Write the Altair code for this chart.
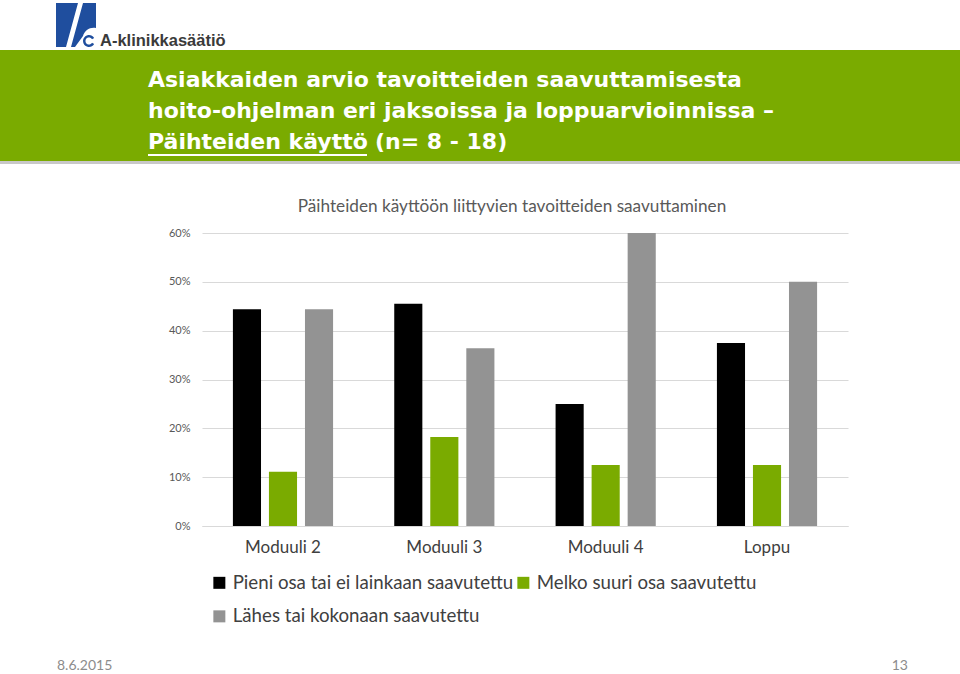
import altair as alt
import pandas as pd

categories = ["Moduuli 2", "Moduuli 3", "Moduuli 4", "Loppu"]
series = [
    "Pieni osa tai ei lainkaan saavutettu",
    "Melko suuri osa saavutettu",
    "Lähes tai kokonaan saavutettu",
]
pieni = [0.444, 0.455, 0.250, 0.375]
melko = [0.111, 0.182, 0.125, 0.125]
lahes = [0.444, 0.364, 0.600, 0.500]
series_colors = {series[0]: "#000000", series[1]: "#7aab00", series[2]: "#939393"}
y_ticks = [0, 0.1, 0.2, 0.3, 0.4, 0.5, 0.6]

title_lines = [
    "Asiakkaiden arvio tavoitteiden saavuttamisesta",
    "hoito-ohjelman eri jaksoissa ja loppuarvioinnissa –",
]
title_underlined = "Päihteiden käyttö"
title_rest = "(n= 8 - 18)"
chart_title = "Päihteiden käyttöön liittyvien tavoitteiden saavuttaminen"
footer_date = "8.6.2015"
footer_page = "13"
logo_text = "A-klinikkasäätiö"

rows = []
for s, vals in zip(series, [pieni, melko, lahes]):
    for c, v in zip(categories, vals):
        rows.append({"cat": c, "series": s, "value": v})
df = pd.DataFrame(rows)

# legend lays entries column by column: order so that rows read like the reference
legend_order = [series[0], series[2], series[1]]

W, H = 646, 293
PL, PT = 202, 233

bars = alt.Chart(df).mark_bar().encode(
    x=alt.X("cat:N", sort=categories,
            scale=alt.Scale(paddingInner=0.33, paddingOuter=0.167),
            axis=alt.Axis(title=None, labelAngle=0, domain=True, domainColor="#d9d9d9",
                          ticks=False, labelFont="Lato", labelFontSize=17,
                          labelColor="#404040", labelPadding=13)),
    xOffset=alt.XOffset("series:N", sort=series,
                        scale=alt.Scale(paddingInner=0.22, paddingOuter=0.11)),
    y=alt.Y("value:Q", scale=alt.Scale(domain=[0, 0.6], nice=False),
            axis=alt.Axis(title=None, values=y_ticks, format=".0%", grid=True,
                          gridColor="#d9d9d9", domain=False, ticks=False,
                          labelFont="Lato", labelFontSize=11, labelColor="#595959",
                          labelPadding=12)),
    color=alt.Color("series:N",
                    scale=alt.Scale(domain=legend_order,
                                    range=[series_colors[s] for s in legend_order]),
                    legend=alt.Legend(title=None, orient="none", legendX=8, legendY=340,
                                      columns=2, symbolType="square", symbolSize=144,
                                      symbolStrokeWidth=0, labelFont="Lato",
                                      labelFontSize=18.7, labelColor="#404040",
                                      labelOffset=4, rowPadding=14, columnPadding=0,
                                      labelLimit=400, padding=0)),
)

one = pd.DataFrame({"a": [0]})
base = alt.Chart(one)

banner = base.mark_rect(color="#7aab00").encode(
    x=alt.value(-PL), x2=alt.value(960 - PL), y=alt.value(50 - PT), y2=alt.value(161 - PT))
shadow = base.mark_rect(color="#9a9a9a", opacity=0.55).encode(
    x=alt.value(-PL), x2=alt.value(960 - PL), y=alt.value(161 - PT), y2=alt.value(164 - PT))

TF = dict(align="left", baseline="alphabetic", font="DejaVu Sans", fontWeight="bold",
          fontSize=22, color="white")
title_layers = []
for i, line in enumerate(title_lines):
    title_layers.append(base.mark_text(text=line, **TF).encode(
        x=alt.value(148 - PL), y=alt.value(87 + i * 31 - PT)))
title_layers.append(base.mark_text(text=title_underlined, **TF).encode(
    x=alt.value(148 - PL), y=alt.value(149 - PT)))
title_layers.append(base.mark_text(text=title_rest, **TF).encode(
    x=alt.value(375 - PL), y=alt.value(149 - PT)))
underline = base.mark_rule(color="white", strokeWidth=2).encode(
    x=alt.value(148 - PL), x2=alt.value(367 - PL), y=alt.value(155 - PT))

logo_path = ("M -20 -22 L 2 -22 L -10 22 L -20 22 Z "
             "M 7 -22 L 20 -22 L 20 3 A 11 11 0 0 0 7 11 L -1 22 L -5 22 Z "
             "M 18.2 13 A 6 6 0 1 0 18.2 19 L 16 17.75 A 3.5 3.5 0 1 1 16 14.25 Z")
logo = base.mark_point(shape=logo_path, size=4, filled=True, opacity=1,
                       strokeWidth=0, color="#1f4e9e").encode(
    x=alt.value(76 - PL), y=alt.value(25 - PT))
logo_txt = base.mark_text(text=logo_text, align="left", baseline="alphabetic",
                          font="Liberation Sans", fontWeight="bold", fontSize=16.5,
                          color="#3a3a3a").encode(
    x=alt.value(100 - PL), y=alt.value(46 - PT))

sub = base.mark_text(text=chart_title, align="center", baseline="alphabetic",
                     font="Lato", fontSize=17.2, color="#595959").encode(
    x=alt.value(512 - PL), y=alt.value(212 - PT))

foot1 = base.mark_text(text=footer_date, align="left", baseline="middle",
                       font="Lato", fontSize=14, color="#8c8c8c").encode(
    x=alt.value(57 - PL), y=alt.value(666 - PT))
foot2 = base.mark_text(text=footer_page, align="right", baseline="middle",
                       font="Lato", fontSize=14, color="#8c8c8c").encode(
    x=alt.value(908 - PL), y=alt.value(666 - PT))

chart = alt.layer(
    bars, banner, shadow, *title_layers, underline, logo, logo_txt, sub, foot1, foot2
).properties(
    width=W, height=H,
    autosize=alt.AutoSizeParams(type="none"),
    padding={"left": PL, "top": PT, "right": 960 - PL - W, "bottom": 674 - PT - H},
    background="white",
).configure_view(stroke=None)

chart.save("out.html", embed_options={"renderer": "svg", "actions": False})
